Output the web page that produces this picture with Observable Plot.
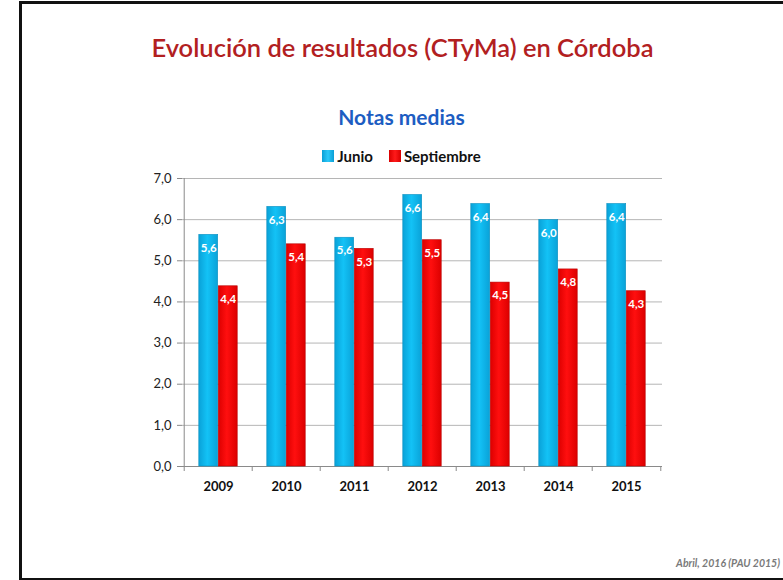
<!DOCTYPE html>
<html>
<head>
<meta charset="utf-8">
<script src="https://cdn.jsdelivr.net/npm/d3@7"></script>
<script src="https://cdn.jsdelivr.net/npm/@observablehq/plot@0.6"></script>
<style>
  html, body { margin: 0; padding: 0; background: #fff; }
  body { position: relative; width: 783px; height: 580px; overflow: hidden; font-family: Lato, "Open Sans", sans-serif; }
  #frame { position: absolute; left: 19px; top: 1px; width: 800px; height: 574px; border: 3px solid #111; box-sizing: content-box; }
  #title { position: absolute; left: 0; width: 805px; top: 32px; text-align: center; color: #b2201f; font-size: 25.5px; font-weight: 600; }
  #subtitle { position: absolute; left: 0; width: 803px; top: 104px; text-align: center; color: #1d5dc2; font-size: 21px; font-weight: 700; }
  #legend { position: absolute; left: 0; width: 803px; top: 147px; text-align: center; font-size: 15px; font-weight: 700; color: #111; }
  #legend span.item { display: inline-flex; align-items: center; margin: 0 8px; }
  #legend span.sw { display: inline-block; width: 12px; height: 12px; margin-right: 3px; }
  #caption { position: absolute; right: 3px; top: 557px; font-size: 10.5px; font-style: italic; font-weight: 700; color: #7a7a7a; }
  #chart { position: absolute; left: 0; top: 0; }
</style>
</head>
<body>
<div id="frame"></div>
<div id="chart"></div>
<div id="title"></div>
<div id="subtitle"></div>
<div id="legend"></div>
<div id="caption"></div>
<script>
const titleText = "Evolución de resultados (CTyMa) en Córdoba";
const subtitleText = "Notas medias";
const captionText = "Abril, 2016 (PAU 2015)";
const years = ["2009", "2010", "2011", "2012", "2013", "2014", "2015"];
const seriesNames = ["Junio", "Septiembre"];
const junio = [5.63, 6.31, 5.56, 6.60, 6.38, 5.99, 6.38];
const septiembre = [4.38, 5.40, 5.29, 5.50, 4.47, 4.79, 4.26];
const yTicks = [0, 1, 2, 3, 4, 5, 6, 7];

document.getElementById("title").textContent = titleText;
document.getElementById("subtitle").textContent = subtitleText;
document.getElementById("caption").textContent = captionText;
const legend = document.getElementById("legend");
const swatchBg = {
  Junio: "linear-gradient(to right, #0a9fd6, #2cc8f8 50%, #0a9fd6)",
  Septiembre: "linear-gradient(to right, #d80000, #ff1a1a 50%, #d80000)"
};
seriesNames.forEach(n => {
  const it = document.createElement("span");
  it.className = "item";
  const sw = document.createElement("span");
  sw.className = "sw";
  sw.style.background = swatchBg[n];
  it.appendChild(sw);
  it.appendChild(document.createTextNode(n));
  legend.appendChild(it);
});

const data = years.map((y, i) => ({year: y, junio: junio[i], septiembre: septiembre[i]}));
const fmt = d => d.toFixed(1).replace(".", ",");

const W = 783, H = 580, mL = 182, mR = 121, mT = 178, mB = 114;
const bw = (W - mL - mR) / years.length;

const defs = () => {
  const svg = d3.create("svg:defs");
  const mk = (id, edge, mid) => {
    const g = svg.append("linearGradient").attr("id", id).attr("x1", 0).attr("x2", 1).attr("y1", 0).attr("y2", 0);
    g.append("stop").attr("offset", "0%").attr("stop-color", edge);
    g.append("stop").attr("offset", "45%").attr("stop-color", mid);
    g.append("stop").attr("offset", "100%").attr("stop-color", edge);
  };
  mk("gJ", "#0aa2d8", "#13c2f6");
  mk("gS", "#dc0000", "#ff0f0f");
  return svg.node();
};

const chart = Plot.plot({
  width: W, height: H,
  marginLeft: mL, marginRight: mR, marginTop: mT, marginBottom: mB,
  style: {fontFamily: "Lato, 'Open Sans', sans-serif", background: "transparent"},
  x: {domain: years, padding: 0, label: null},
  y: {domain: [0, 7], label: null},
  marks: [
    defs,
    Plot.gridY(yTicks, {stroke: "#b5b5b5", strokeOpacity: 1}),
    Plot.ruleX([years[0]], {y1: 0, y2: 7, dx: -bw / 2, stroke: "#8a8a8a"}),
    Plot.ruleX(years, {y1: 0, y2: 0, insetBottom: -5, dx: -bw / 2, stroke: "#8a8a8a"}),
    Plot.ruleX([years[years.length - 1]], {y1: 0, y2: 0, insetBottom: -5, dx: bw / 2, stroke: "#8a8a8a"}),
    Plot.ruleY([0], {stroke: "#8a8a8a"}),
    Plot.barY(data, {x: "year", y: "junio", fill: "url(#gJ)", stroke: "#0a8fc0", strokeWidth: 0.6, insetLeft: 14.8, insetRight: 34.3}),
    Plot.barY(data, {x: "year", y: "septiembre", fill: "url(#gS)", stroke: "#b80000", strokeWidth: 0.6, insetLeft: 34.3, insetRight: 14.8}),
    Plot.text(data, {x: "year", y: "junio", text: d => fmt(d.junio), dx: -9.75, dy: 13, fill: "white", fontWeight: "bold", fontSize: 11.5}),
    Plot.text(data, {x: "year", y: "septiembre", text: d => fmt(d.septiembre), dx: 9.75, dy: 13, fill: "white", fontWeight: "bold", fontSize: 11.5}),
    Plot.axisY({ticks: yTicks, tickFormat: fmt, tickSize: 5, tickPadding: 6, fontSize: 13, stroke: "#8a8a8a", fill: "#222", label: null}),
    Plot.axisX({tickSize: 0, tickPadding: 15, fontSize: 13, fontWeight: "bold", fill: "#111", label: null})
  ]
});
document.getElementById("chart").appendChild(chart);
</script>
</body>
</html>
